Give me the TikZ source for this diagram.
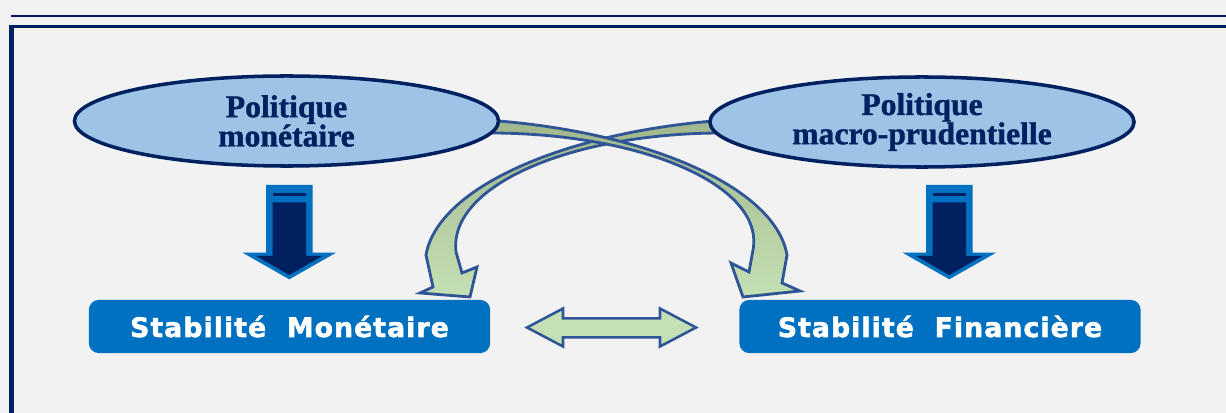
\documentclass[tikz,border=0pt]{standalone}
\usepackage{fontspec}
\setmainfont{Liberation Serif}
\newfontfamily\policyfont[FakeBold=1.2]{Liberation Serif Bold}
\newfontfamily\boxfont[LetterSpace=4, FakeBold=2]{DejaVu Sans Bold}
\usepackage{xcolor}
\usetikzlibrary{shapes.geometric, positioning, calc}

\definecolor{navy}{RGB}{0,32,96}
\definecolor{midblue}{RGB}{0,112,192}
\definecolor{paleblue}{RGB}{157,195,230}
\definecolor{palegreen}{RGB}{197,224,180}
\definecolor{olivegreen}{RGB}{160,182,140}
\definecolor{edgeblue}{RGB}{47,85,151}
\definecolor{bggray}{RGB}{242,242,242}

\begin{document}
\begin{tikzpicture}[x=0.025cm, y=-0.025cm,
    policy/.style={ellipse, draw=navy, line width=2.5pt, fill=paleblue, minimum width=10.6cm, minimum height=2.25cm, inner sep=0pt, align=center, text=navy, font=\policyfont\fontsize{22.5}{20.8}\selectfont},
    goal/.style={rectangle, rounded corners=0.25cm, fill=midblue, minimum width=10.03cm, minimum height=1.33cm, text=white, font=\boxfont\fontsize{19}{22}\selectfont},
    blockarrow/.style={draw=edgeblue, line width=1.8pt, line join=miter, fill=palegreen},
    curvedarrow/.style={draw=edgeblue, line width=2pt, line join=miter, top color=olivegreen, middle color=palegreen, bottom color=palegreen},
    pics/downblock/.style={code={
        \fill[midblue] (-23.3,0) -- (23.3,0) -- (23.3,67.7) -- (46.7,67.7) -- (0,94.3) -- (-46.7,67.7) -- (-23.3,67.7) -- cycle;
        \fill[navy] (-16.7,17.3) -- (16.7,17.3) -- (16.7,71) -- (33,71) -- (0,90) -- (-33,71) -- (-16.7,71) -- cycle;
        \fill[navy] (-16.7,8.3) rectangle (16.7,10.7);
    }}]
    \useasboundingbox (0,0) rectangle (1226,413);
    \fill[bggray] (0,0) rectangle (1226,413);

    % frame
    \draw[navy, line width=1.8pt] (11,16) -- (1226,16);
    \draw[navy, line width=1.8pt] (11.5,26.5) -- (1226,26.5);
    \draw[navy, line width=3.2pt] (11.5,25.3) -- (11.5,413);

    % crossing arrows, behind the ellipses
    \draw[curvedarrow] (727,120) .. controls (573,130) and (438,185) .. (426,255) -- (433,287) -- (420,293) -- (470,297) -- (477,267) -- (462,273) -- (456,252) .. controls (448,185) and (573,132) .. (727,133) -- cycle;
    \draw[curvedarrow] (485,120) .. controls (640,130) and (775,185) .. (787,255) -- (782,283) -- (800,291) -- (743,297) -- (731,263) -- (749,272) -- (753,250) .. controls (765,185) and (640,132) .. (485,133) -- cycle;

    \node[policy] (monpol) at (286.5,121) {Politique\\monétaire};
    \node[policy] (macropol) at (922,122) {Politique\\macro-prudentielle};

    \pic at (289.3,185) {downblock};
    \pic at (949.3,185) {downblock};

    \node[goal] (monstab) at (289.5,326.5) {Stabilité~~Monétaire};
    \node[goal] (finstab) at (940,326.5) {Stabilité~~Financière};

    \draw[blockarrow] (527,327.5) -- (563,308.5) -- (563,318.3) -- (660,318.3) -- (660,308.5) -- (696,327.5) -- (660,346.5) -- (660,337.3) -- (563,337.3) -- (563,346.5) -- cycle;
\end{tikzpicture}
\end{document}
